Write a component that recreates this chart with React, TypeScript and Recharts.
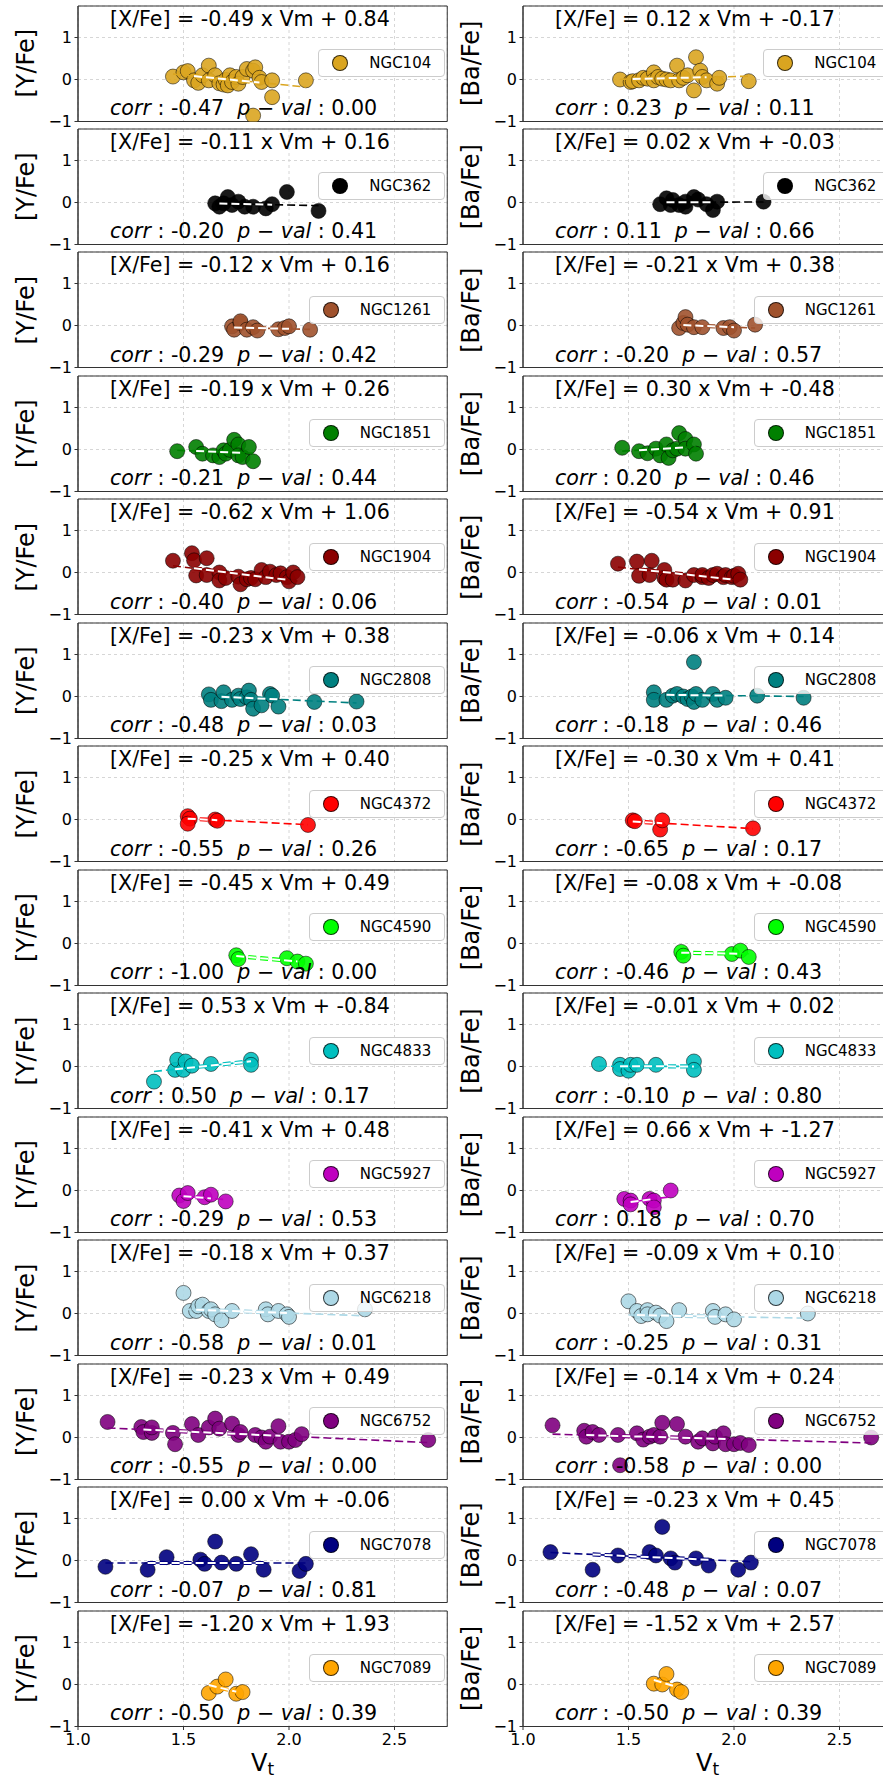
import React from 'react'
import { ScatterChart, Scatter, XAxis, YAxis, CartesianGrid, ReferenceArea } from 'recharts'

type P = [number, number]

// ── Clusters ────────────────────────────────────────────────────────────────
const CLUSTERS = ['NGC104', 'NGC362', 'NGC1261', 'NGC1851', 'NGC1904', 'NGC2808', 'NGC4372',
  'NGC4590', 'NGC4833', 'NGC5927', 'NGC6218', 'NGC6752', 'NGC7078', 'NGC7089']
const COLORS = ['#DAA520', '#000000', '#A0522D', '#008000', '#8B0000', '#008080', '#FF0000',
  '#00FF00', '#00BFBF', '#BF00BF', '#ADD8E6', '#800080', '#000080', '#FFA500']

// fit: [slope, intercept], stats: [corr, p-val]
const Y_FIT: P[] = [[-0.49, 0.84], [-0.11, 0.16], [-0.12, 0.16], [-0.19, 0.26], [-0.62, 1.06], [-0.23, 0.38], [-0.25, 0.40],
  [-0.45, 0.49], [0.53, -0.84], [-0.41, 0.48], [-0.18, 0.37], [-0.23, 0.49], [0.0, -0.06], [-1.20, 1.93]]
const Y_STATS: P[] = [[-0.47, 0.0], [-0.20, 0.41], [-0.29, 0.42], [-0.21, 0.44], [-0.40, 0.06], [-0.48, 0.03], [-0.55, 0.26],
  [-1.0, 0.0], [0.50, 0.17], [-0.29, 0.53], [-0.58, 0.01], [-0.55, 0.0], [-0.07, 0.81], [-0.50, 0.39]]
const BA_FIT: P[] = [[0.12, -0.17], [0.02, -0.03], [-0.21, 0.38], [0.30, -0.48], [-0.54, 0.91], [-0.06, 0.14], [-0.30, 0.41],
  [-0.08, -0.08], [-0.01, 0.02], [0.66, -1.27], [-0.09, 0.10], [-0.14, 0.24], [-0.23, 0.45], [-1.52, 2.57]]
const BA_STATS: P[] = [[0.23, 0.11], [0.11, 0.66], [-0.20, 0.57], [0.20, 0.46], [-0.54, 0.01], [-0.18, 0.46], [-0.65, 0.17],
  [-0.46, 0.43], [-0.10, 0.80], [0.18, 0.70], [-0.25, 0.31], [-0.58, 0.0], [-0.48, 0.07], [-0.50, 0.39]]

// ── [Y/Fe] vs Vt ────────────────────────────────────────────────────────────
const Y_NGC104: P[] = [[1.45, 0.07], [1.50, 0.17], [1.52, 0.20], [1.55, -0.02], [1.57, -0.08], [1.59, 0.10], [1.62, 0.33],
  [1.62, -0.02], [1.65, 0.10], [1.67, -0.09], [1.69, -0.12], [1.70, -0.01], [1.71, -0.14], [1.72, 0.10], [1.73, -0.06],
  [1.75, 0.06], [1.76, -0.10], [1.78, 0.06], [1.80, 0.25], [1.83, 0.21], [1.84, 0.29], [1.86, 0.04], [1.87, -0.06],
  [1.92, -0.02], [1.92, -0.42], [1.83, -0.86], [2.08, -0.02]]
const Y_NGC362: P[] = [[1.65, -0.02], [1.67, -0.10], [1.69, -0.02], [1.71, 0.13], [1.73, -0.06], [1.76, 0.02],
  [1.79, -0.10], [1.83, -0.10], [1.89, -0.14], [1.92, -0.04], [1.99, 0.25], [2.14, -0.20]]
const Y_NGC1261: P[] = [[1.73, -0.02], [1.74, -0.10], [1.77, 0.06], [1.77, 0.10], [1.80, -0.10], [1.83, -0.04],
  [1.85, -0.12], [1.95, -0.09], [1.98, -0.06], [2.00, -0.02], [2.10, -0.10]]
const Y_NGC1851: P[] = [[1.47, -0.04], [1.56, 0.06], [1.59, -0.10], [1.64, -0.14], [1.67, -0.18], [1.69, -0.02],
  [1.70, -0.10], [1.72, -0.01], [1.74, 0.23], [1.76, 0.12], [1.76, -0.14], [1.78, -0.18], [1.81, 0.06], [1.83, -0.28]]
const Y_NGC1904: P[] = [[1.45, 0.28], [1.54, 0.46], [1.55, 0.29], [1.61, 0.34], [1.56, -0.07], [1.61, -0.06],
  [1.67, 0.0], [1.67, -0.19], [1.70, -0.13], [1.76, -0.10], [1.77, -0.28], [1.80, -0.16], [1.82, -0.13], [1.84, -0.16],
  [1.87, 0.06], [1.89, -0.11], [1.91, 0.02], [1.94, -0.06], [1.96, -0.02], [1.99, -0.11], [2.00, -0.21], [2.02, 0.0],
  [2.04, -0.11]]
const Y_NGC2808: P[] = [[1.62, 0.05], [1.63, -0.08], [1.68, -0.11], [1.69, 0.10], [1.73, -0.08], [1.76, 0.02],
  [1.77, -0.06], [1.80, -0.02], [1.81, 0.14], [1.82, -0.08], [1.83, -0.29], [1.87, -0.21], [1.91, 0.06], [1.92, 0.02],
  [1.95, -0.24], [2.12, -0.13], [2.32, -0.12]]
const Y_NGC4372: P[] = [[1.52, 0.08], [1.53, 0.02], [1.52, -0.10], [1.65, 0.0], [1.66, -0.03], [2.09, -0.13]]
const Y_NGC4590: P[] = [[1.75, -0.28], [1.76, -0.37], [1.99, -0.35], [2.04, -0.43], [2.08, -0.48]]
const Y_NGC4833: P[] = [[1.36, -0.36], [1.46, -0.08], [1.47, 0.16], [1.50, -0.08], [1.51, 0.12], [1.54, 0.02],
  [1.63, 0.06], [1.82, 0.16], [1.82, 0.04]]
const Y_NGC5927: P[] = [[1.48, -0.12], [1.50, -0.25], [1.52, -0.06], [1.60, -0.16], [1.63, -0.10], [1.70, -0.26]]
const Y_NGC6218: P[] = [[1.50, 0.49], [1.53, 0.06], [1.56, 0.06], [1.57, 0.17], [1.59, 0.21], [1.62, 0.06],
  [1.63, 0.10], [1.65, -0.02], [1.68, -0.16], [1.73, 0.06], [1.89, 0.10], [1.90, -0.02], [1.95, 0.06], [1.99, -0.02],
  [2.00, -0.08], [2.36, 0.10]]
const Y_NGC6752: P[] = [[1.14, 0.37], [1.30, 0.25], [1.31, 0.13], [1.35, 0.11], [1.35, 0.24], [1.45, 0.11],
  [1.46, -0.16], [1.54, 0.32], [1.57, 0.06], [1.62, 0.24], [1.65, 0.45], [1.67, 0.21], [1.73, 0.33], [1.76, 0.06],
  [1.77, 0.13], [1.84, 0.06], [1.87, 0.0], [1.89, -0.10], [1.91, 0.02], [1.95, 0.27], [1.96, -0.10], [2.00, -0.10],
  [2.03, -0.06], [2.06, 0.08], [2.66, -0.06]]
const Y_NGC7078: P[] = [[1.13, -0.15], [1.33, -0.22], [1.42, 0.08], [1.58, 0.02], [1.60, -0.08], [1.65, 0.45],
  [1.68, -0.05], [1.75, -0.08], [1.82, 0.15], [1.88, -0.22], [2.05, -0.25], [2.08, -0.08]]
const Y_NGC7089: P[] = [[1.62, -0.20], [1.66, -0.05], [1.70, 0.12], [1.75, -0.22], [1.78, -0.18]]

// ── [Ba/Fe] vs Vt ───────────────────────────────────────────────────────────
const BA_NGC104: P[] = [[1.46, 0.0], [1.51, -0.06], [1.52, -0.04], [1.55, -0.02], [1.57, 0.04], [1.59, 0.02],
  [1.62, 0.17], [1.62, -0.02], [1.64, 0.06], [1.66, 0.02], [1.68, 0.0], [1.70, -0.02], [1.73, 0.33], [1.74, -0.02],
  [1.76, 0.04], [1.78, 0.10], [1.81, -0.26], [1.82, 0.53], [1.84, 0.21], [1.85, 0.06], [1.87, -0.02], [1.92, -0.10],
  [1.93, 0.04], [2.07, -0.04]]
const BA_NGC362: P[] = [[1.65, -0.04], [1.68, 0.10], [1.70, -0.06], [1.71, 0.06], [1.74, -0.06], [1.77, 0.02],
  [1.77, -0.10], [1.81, 0.13], [1.83, 0.07], [1.87, -0.04], [1.90, -0.18], [1.92, 0.02], [2.14, 0.02]]
const BA_NGC1261: P[] = [[1.74, -0.06], [1.76, 0.06], [1.77, 0.20], [1.78, 0.02], [1.81, -0.04], [1.85, -0.04],
  [1.95, -0.06], [1.98, -0.04], [2.00, -0.12], [2.10, 0.02]]
const BA_NGC1851: P[] = [[1.47, 0.04], [1.55, -0.04], [1.59, -0.09], [1.63, 0.02], [1.65, -0.14], [1.68, 0.12],
  [1.69, -0.20], [1.71, -0.02], [1.73, 0.02], [1.74, 0.39], [1.77, 0.25], [1.77, 0.02], [1.81, 0.12], [1.82, -0.10]]
const BA_NGC1904: P[] = [[1.45, 0.21], [1.54, 0.26], [1.55, -0.08], [1.60, -0.06], [1.61, 0.28], [1.67, 0.06],
  [1.67, -0.13], [1.68, -0.17], [1.71, -0.17], [1.77, -0.19], [1.81, -0.06], [1.85, -0.11], [1.85, -0.06],
  [1.88, -0.13], [1.90, -0.06], [1.92, -0.03], [1.95, -0.11], [1.96, -0.06], [1.99, -0.11], [2.00, -0.08],
  [2.02, -0.03], [2.03, -0.17]]
const BA_NGC2808: P[] = [[1.62, 0.10], [1.62, -0.08], [1.68, -0.08], [1.71, 0.02], [1.73, 0.06], [1.76, 0.0],
  [1.78, -0.06], [1.80, 0.0], [1.81, 0.82], [1.81, -0.13], [1.82, 0.06], [1.85, -0.08], [1.90, 0.06], [1.92, -0.08],
  [1.96, -0.03], [2.11, 0.02], [2.33, -0.03]]
const BA_NGC4372: P[] = [[1.52, -0.02], [1.53, -0.04], [1.65, -0.24], [1.66, -0.02], [2.09, -0.21]]
const BA_NGC4590: P[] = [[1.75, -0.20], [1.76, -0.29], [1.99, -0.25], [2.03, -0.17], [2.07, -0.32]]
const BA_NGC4833: P[] = [[1.36, 0.06], [1.46, 0.04], [1.46, -0.06], [1.50, -0.10], [1.51, 0.04], [1.54, 0.04],
  [1.63, 0.04], [1.81, 0.12], [1.81, -0.08]]
const BA_NGC5927: P[] = [[1.48, -0.20], [1.51, -0.24], [1.51, -0.33], [1.60, -0.20], [1.62, -0.24], [1.62, -0.40],
  [1.70, 0.0]]
const BA_NGC6218: P[] = [[1.50, 0.29], [1.54, 0.06], [1.56, -0.06], [1.59, 0.08], [1.59, -0.02], [1.63, 0.02],
  [1.65, -0.05], [1.68, -0.18], [1.74, 0.08], [1.90, 0.06], [1.91, -0.08], [1.96, -0.02], [2.00, -0.14], [2.35, 0.0]]
const BA_NGC6752: P[] = [[1.14, 0.29], [1.29, 0.16], [1.30, 0.02], [1.33, 0.13], [1.36, 0.06], [1.45, 0.06],
  [1.46, -0.66], [1.54, 0.10], [1.57, -0.05], [1.60, 0.02], [1.62, 0.06], [1.65, 0.02], [1.66, 0.35], [1.73, 0.32],
  [1.77, 0.02], [1.83, -0.10], [1.85, -0.02], [1.90, -0.14], [1.91, 0.02], [1.95, 0.10], [1.96, -0.16], [2.00, -0.16],
  [2.03, -0.13], [2.07, -0.18], [2.65, 0.0]]
const BA_NGC7078: P[] = [[1.13, 0.20], [1.33, -0.22], [1.45, 0.12], [1.60, 0.20], [1.63, 0.12], [1.66, 0.80],
  [1.70, 0.05], [1.72, -0.05], [1.82, 0.05], [1.88, -0.12], [2.02, -0.22], [2.08, -0.05]]
const BA_NGC7089: P[] = [[1.62, 0.02], [1.66, 0.0], [1.68, 0.25], [1.73, -0.12], [1.75, -0.18]]

const Y_DATA = [Y_NGC104, Y_NGC362, Y_NGC1261, Y_NGC1851, Y_NGC1904, Y_NGC2808, Y_NGC4372, Y_NGC4590,
  Y_NGC4833, Y_NGC5927, Y_NGC6218, Y_NGC6752, Y_NGC7078, Y_NGC7089]
const BA_DATA = [BA_NGC104, BA_NGC362, BA_NGC1261, BA_NGC1851, BA_NGC1904, BA_NGC2808, BA_NGC4372, BA_NGC4590,
  BA_NGC4833, BA_NGC5927, BA_NGC6218, BA_NGC6752, BA_NGC7078, BA_NGC7089]

const X_TICKS = [1.0, 1.5, 2.0, 2.5]
const Y_TICKS = [-1, 0, 1]

// ── Layout ──────────────────────────────────────────────────────────────────
const FONT = '"DejaVu Sans", sans-serif'
const W = 883
const H = 1783
const ZERO0 = 79
const PITCH = 123.48
const PX_Y = 42
const PLOT_H = 2.75 * PX_Y
const PLOT_W = 1.75 * 211
const PLOT_LEFT = [78, 523]
const CHART_LEFT = [0, 440]
const N = CLUSTERS.length
const NB = '\u00a0'
const TXT = 20.6

const zeroY = (row: number) => ZERO0 + row * PITCH
const topY = (row: number) => zeroY(row) - 1.75 * PX_Y
const fmt = (v: number) => v.toFixed(2)
const minus = (v: number) => (v < 0 ? `\u2212${-v}` : `${v}`)

function Panel({ row, col }: { row: number; col: number }) {
  const data = col === 0 ? Y_DATA[row] : BA_DATA[row]
  const [a, b] = col === 0 ? Y_FIT[row] : BA_FIT[row]
  const color = COLORS[row]
  const xs = data.map((p) => p[0]).sort((p, q) => p - q)
  const lo = xs[Math.round(0.1 * (xs.length - 1))]
  const hi = xs[Math.round(0.85 * (xs.length - 1))]
  const pts = data.map(([x, y]) => ({ x, y }))
  const fit = [xs[0], xs[xs.length - 1]].map((x) => ({ x, y: a * x + b }))
  const core = [lo, hi].map((x) => ({ x, y: a * x + b }))
  const last = row === N - 1
  const xAxisH = last ? 30 : 0
  const yAxisW = PLOT_LEFT[col] - CHART_LEFT[col]
  const noDot = () => <g />

  return (
    <div style={{ position: 'absolute', left: CHART_LEFT[col], top: topY(row) - 10 }}>
      <ScatterChart
        width={yAxisW + PLOT_W + 14}
        height={PLOT_H + 20 + xAxisH}
        margin={{ top: 10, right: 14, bottom: 10, left: 0 }}
      >
        <CartesianGrid stroke="#d6d6d6" strokeDasharray="3 3" />
        <XAxis
          type="number" dataKey="x" domain={[1, 2.75]} ticks={X_TICKS} allowDataOverflow
          height={xAxisH} tickSize={3.5} tickMargin={4}
          tickFormatter={last ? (v: number) => v.toFixed(1) : () => ''}
          axisLine={{ stroke: '#333' }} tickLine={{ stroke: '#333' }}
          tick={{ fontSize: 16, fill: '#000', fontFamily: FONT }}
        />
        <YAxis
          type="number" dataKey="y" domain={[-1, 1.75]} ticks={Y_TICKS} allowDataOverflow
          width={yAxisW} tickSize={3.5} tickMargin={2.5} tickFormatter={minus}
          axisLine={{ stroke: '#333' }} tickLine={{ stroke: '#333' }}
          tick={{ fontSize: 16, fill: '#000', fontFamily: FONT }}
        />
        <Scatter
          data={pts} isAnimationActive={false}
          shape={(p: { cx?: number; cy?: number }) => (
            <circle cx={p.cx} cy={p.cy} r={7.5} fill={color} fillOpacity={0.9} stroke="#000" strokeOpacity={0.75} strokeWidth={0.7} />
          )}
        />
        <Scatter data={fit} isAnimationActive={false} shape={noDot}
          line={{ stroke: color, strokeWidth: 1.6, strokeDasharray: '8 4' }} />
        <Scatter data={core} isAnimationActive={false} shape={noDot}
          line={{ stroke: color, strokeWidth: 4.2, strokeDasharray: '8 4' }} />
        <Scatter data={core} isAnimationActive={false} shape={noDot}
          line={{ stroke: '#fff', strokeWidth: 2, strokeDasharray: '8 4' }} />
        <ReferenceArea x1={1} x2={2.75} y1={-1} y2={1.75} fill="none" stroke="#333" strokeWidth={1} ifOverflow="visible" />
      </ScatterChart>
    </div>
  )
}

function Legend({ row, col }: { row: number; col: number }) {
  const boxRight = PLOT_LEFT[col] + PLOT_W - 2
  return (
    <div
      style={{
        position: 'absolute', right: W - boxRight, top: zeroY(row) - 30, height: 26,
        display: 'flex', alignItems: 'center', paddingLeft: 13, paddingRight: 13,
        border: '1px solid #cccccc', borderRadius: 4, background: 'rgba(255,255,255,0.8)',
        fontFamily: FONT, fontSize: 15, color: '#000', whiteSpace: 'nowrap',
      }}
    >
      <span style={{
        width: 14, height: 14, borderRadius: '50%', background: COLORS[row],
        border: '0.7px solid rgba(0,0,0,0.75)', marginRight: 21,
      }} />
      {CLUSTERS[row]}
    </div>
  )
}

function Texts() {
  const items: React.ReactNode[] = []
  for (let row = 0; row < N; row++) {
    for (let col = 0; col < 2; col++) {
      const [a, b] = col === 0 ? Y_FIT[row] : BA_FIT[row]
      const [c, p] = col === 0 ? Y_STATS[row] : BA_STATS[row]
      const x = PLOT_LEFT[col] + 32
      const z = zeroY(row)
      const lx = PLOT_LEFT[col] - 52
      const ly = z - 15.75
      items.push(
        <g key={`${row}-${col}`}>
          <text x={x} y={z - 53.5} fontSize={TXT}>{`[X/Fe] = ${fmt(a)} x Vm + ${fmt(b)}`}</text>
          <text x={x} y={z + 36} fontSize={TXT} xmlSpace="preserve">
            <tspan fontStyle="italic">corr</tspan>
            <tspan>{` : ${fmt(c)}${NB}${NB}`}</tspan>
            <tspan fontStyle="italic">p</tspan>
            <tspan>{`${NB}\u2212${NB}`}</tspan>
            <tspan fontStyle="italic">val</tspan>
            <tspan>{` : ${fmt(p)}`}</tspan>
          </text>
          <text x={lx} y={ly} fontSize={24} textAnchor="middle" dominantBaseline="central"
            transform={`rotate(-90 ${lx} ${ly})`}>
            {col === 0 ? '[Y/Fe]' : '[Ba/Fe]'}
          </text>
        </g>
      )
    }
  }
  const bottom = zeroY(N - 1) + PX_Y
  for (let col = 0; col < 2; col++) {
    const cx = PLOT_LEFT[col] + PLOT_W / 2
    items.push(
      <text key={`vt-${col}`} x={cx} y={bottom + 45} fontSize={24} textAnchor="middle">
        V<tspan fontSize={17} dy={4}>t</tspan>
      </text>
    )
  }
  return (
    <svg width={W} height={H} style={{ position: 'absolute', left: 0, top: 0, pointerEvents: 'none' }}
      fontFamily={FONT} fill="#000">
      {items}
    </svg>
  )
}

export default function App() {
  return (
    <div style={{ position: 'absolute', left: 0, top: 0, width: W, height: H, overflow: 'hidden', background: '#fff', fontFamily: FONT }}>
      {CLUSTERS.map((_, row) => [0, 1].map((col) => <Panel key={`p${row}-${col}`} row={row} col={col} />))}
      <Texts />
      {CLUSTERS.map((_, row) => [0, 1].map((col) => <Legend key={`l${row}-${col}`} row={row} col={col} />))}
    </div>
  )
}
